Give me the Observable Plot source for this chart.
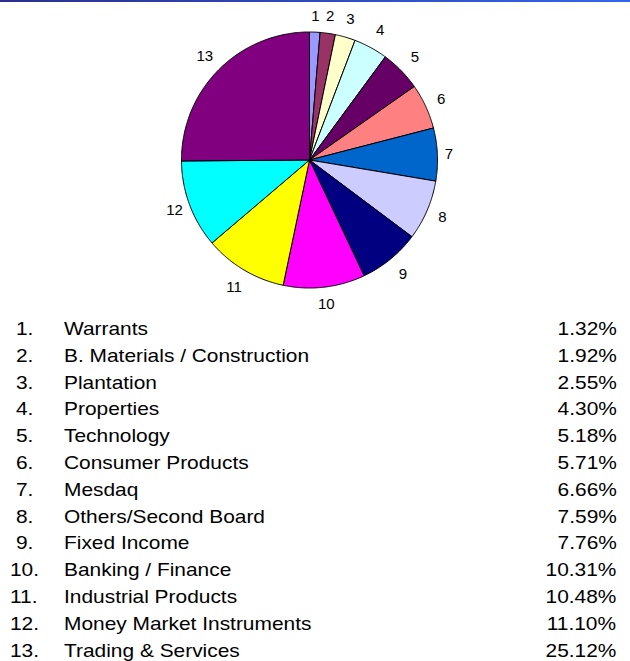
<!DOCTYPE html>
<html><head><meta charset="utf-8">
<script src="https://cdn.jsdelivr.net/npm/d3@7"></script>
<script src="https://cdn.jsdelivr.net/npm/@observablehq/plot@0.6"></script>
<style>
html,body{margin:0;padding:0;background:#fff;}
#wrap{position:relative;width:630px;height:661px;overflow:hidden;font-family:"Liberation Sans",Arial,sans-serif;}
#bar{position:absolute;left:0;top:0;width:630px;height:2px;background:linear-gradient(to right,#2b2f8f,#3366ee);z-index:2;}
#chart{position:absolute;left:0;top:0;}
.cell{position:absolute;white-space:nowrap;font-size:19px;line-height:19px;color:#000;}
</style></head>
<body>
<div id="wrap"><div id="bar"></div><div id="chart"></div><div id="legend"></div></div>
<script>
const sliceLabels = ["1","2","3","4","5","6","7","8","9","10","11","12","13"];
const categories = ["Warrants","B. Materials / Construction","Plantation","Properties","Technology","Consumer Products","Mesdaq","Others/Second Board","Fixed Income","Banking / Finance","Industrial Products","Money Market Instruments","Trading & Services"];
const values = [1.32,1.92,2.55,4.30,5.18,5.71,6.66,7.59,7.76,10.31,10.48,11.10,25.12];
const palette = ["#9999FF","#993366","#FFFFCC","#CCFFFF","#660066","#FF8080","#0066CC","#CCCCFF","#000080","#FF00FF","#FFFF00","#00FFFF","#800080"];

const total = d3.sum(values);
const cum = d3.cumsum(values);
const slices = values.map((v,i)=>({i, a0:(cum[i]-v)/total*2*Math.PI, a1:cum[i]/total*2*Math.PI}));
const pts = [];
for (const s of slices) {
  pts.push({k:s.i, x:0, y:0});
  const n = Math.max(2, Math.ceil((s.a1-s.a0)/(Math.PI/360)));
  for (let j=0;j<=n;j++){ const a = s.a0+(s.a1-s.a0)*j/n; pts.push({k:s.i, x:Math.sin(a), y:Math.cos(a)}); }
  pts.push({k:s.i, x:0, y:0});
}
const R0 = 128;
const labs = slices.map(s=>{
  const m = (s.a0+s.a1)/2, sn = Math.sin(m), cs = Math.cos(m);
  const r = (139 + 5*Math.abs(cs) + 10*Math.abs(sn*cs))/R0;
  return {x: r*sn, y: r*cs, t: sliceLabels[s.i]};
});

const plot = Plot.plot({
  width: 630, height: 310,
  marginLeft: 181, marginRight: 193, marginTop: 31.5, marginBottom: 22.5,
  x: {domain:[-1,1], axis:null},
  y: {domain:[-1,1], axis:null},
  color: {type:"identity"},
  style: {background:"transparent", overflow:"visible", fontFamily:"'Liberation Sans', Arial, sans-serif"},
  marks: [
    Plot.line(pts, {x:"x", y:"y", z:"k", fill:d=>palette[d.k], stroke:"#000", strokeWidth:1, strokeLinejoin:"miter", curve:"linear"}),
    Plot.text(labs, {x:"x", y:"y", text:"t", fontSize:15, fill:"#000", textAnchor:"middle"})
  ]
});
document.getElementById("chart").appendChild(plot);

const leg = document.getElementById("legend");
categories.forEach((c,i)=>{
  const base = 335 + 26.8*i;
  const top = (base - 16.1) + "px";
  const mk = (txt, css) => { const s = document.createElement("span"); s.className="cell"; s.textContent = txt; Object.assign(s.style, css, {top}); leg.appendChild(s); };
  mk(sliceLabels[i] + ".", {left:(i<9?15.5:10)+"px", transform:"scaleX(1.1)", transformOrigin:"left"});
  mk(c, {left:"64px", transform:"scaleX(1.1)", transformOrigin:"left"});
  mk(values[i].toFixed(2)+"%", {right:"13.5px", transform:"scaleX(1.1)", transformOrigin:"right"});
});
</script>
</body></html>
